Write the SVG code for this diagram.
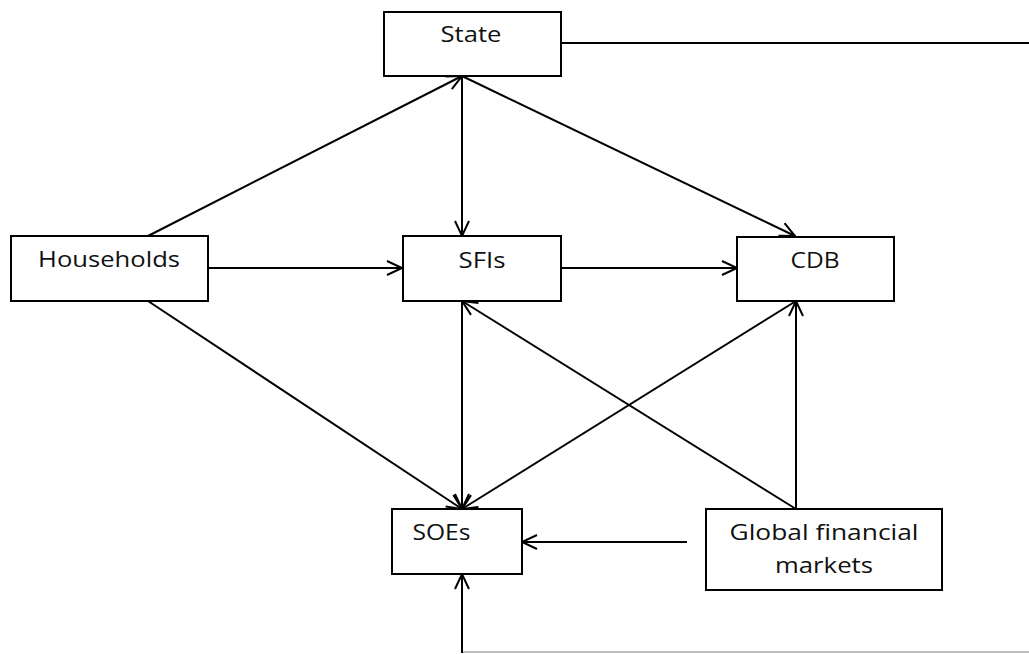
<svg xmlns="http://www.w3.org/2000/svg" width="1029" height="654" viewBox="0 0 1029 654">
<style>
.box{fill:#fff;stroke:#000;stroke-width:2}
.lbl{font-family:"Open Sans","Noto Sans","DejaVu Sans",sans-serif;font-size:21px;fill:#111;text-anchor:middle}
.ln{fill:none;stroke:#000;stroke-width:2}
</style>
<defs>
<marker id="ah" markerUnits="userSpaceOnUse" markerWidth="20" markerHeight="20" viewBox="-2 -2 20 18" refX="15" refY="7" orient="auto">
<path d="M0,0 L15,7 L0,14" fill="none" stroke="#000" stroke-width="2"/>
</marker>
</defs>
<rect width="1029" height="654" fill="#fff"/>
<g id="connectors">
<line class="ln" x1="561" y1="43" x2="1029" y2="43"/>
<line class="ln" x1="148" y1="236" x2="462" y2="76" marker-end="url(#ah)"/>
<line class="ln" x1="462" y1="76" x2="462" y2="236" marker-end="url(#ah)"/>
<line class="ln" x1="462" y1="76" x2="795" y2="236" marker-end="url(#ah)"/>
<line class="ln" x1="208" y1="268" x2="402" y2="268" marker-end="url(#ah)"/>
<line class="ln" x1="561" y1="268" x2="737" y2="268" marker-end="url(#ah)"/>
<line class="ln" x1="148" y1="301" x2="462" y2="509" marker-end="url(#ah)"/>
<line class="ln" x1="462" y1="301" x2="462" y2="509" marker-end="url(#ah)"/>
<line class="ln" x1="796" y1="301" x2="462" y2="509" marker-end="url(#ah)"/>
<line class="ln" x1="796" y1="509" x2="462" y2="301" marker-end="url(#ah)"/>
<line class="ln" x1="796" y1="509" x2="796" y2="301" marker-end="url(#ah)"/>
<line class="ln" x1="687" y1="542" x2="522" y2="542" marker-end="url(#ah)"/>
<line x1="1029" y1="652" x2="462" y2="652" stroke="#aaa" stroke-width="1.5"/>
<line class="ln" x1="462" y1="653" x2="462" y2="574" marker-end="url(#ah)"/>
</g>
<g id="state">
<rect class="box" x="384" y="12" width="177" height="64"/>
<text class="lbl" x="471" y="42" textLength="61" lengthAdjust="spacingAndGlyphs">State</text>
</g>
<g id="households">
<rect class="box" x="11" y="236" width="197" height="65"/>
<text class="lbl" x="109" y="267" textLength="142" lengthAdjust="spacingAndGlyphs">Households</text>
</g>
<g id="sfis">
<rect class="box" x="403" y="236" width="158" height="65"/>
<text class="lbl" x="482" y="268" textLength="47" lengthAdjust="spacingAndGlyphs">SFIs</text>
</g>
<g id="cdb">
<rect class="box" x="737" y="237" width="157" height="64"/>
<text class="lbl" x="815" y="268" textLength="49" lengthAdjust="spacingAndGlyphs">CDB</text>
</g>
<g id="soes">
<rect class="box" x="392" y="509" width="130" height="65"/>
<text class="lbl" x="441.5" y="540" textLength="58" lengthAdjust="spacingAndGlyphs">SOEs</text>
</g>
<g id="global">
<rect class="box" x="706" y="509" width="236" height="81"/>
<text class="lbl" x="824" y="540" textLength="189" lengthAdjust="spacingAndGlyphs">Global financial</text>
<text class="lbl" x="824" y="573" textLength="98" lengthAdjust="spacingAndGlyphs">markets</text>
</g>
</svg>
